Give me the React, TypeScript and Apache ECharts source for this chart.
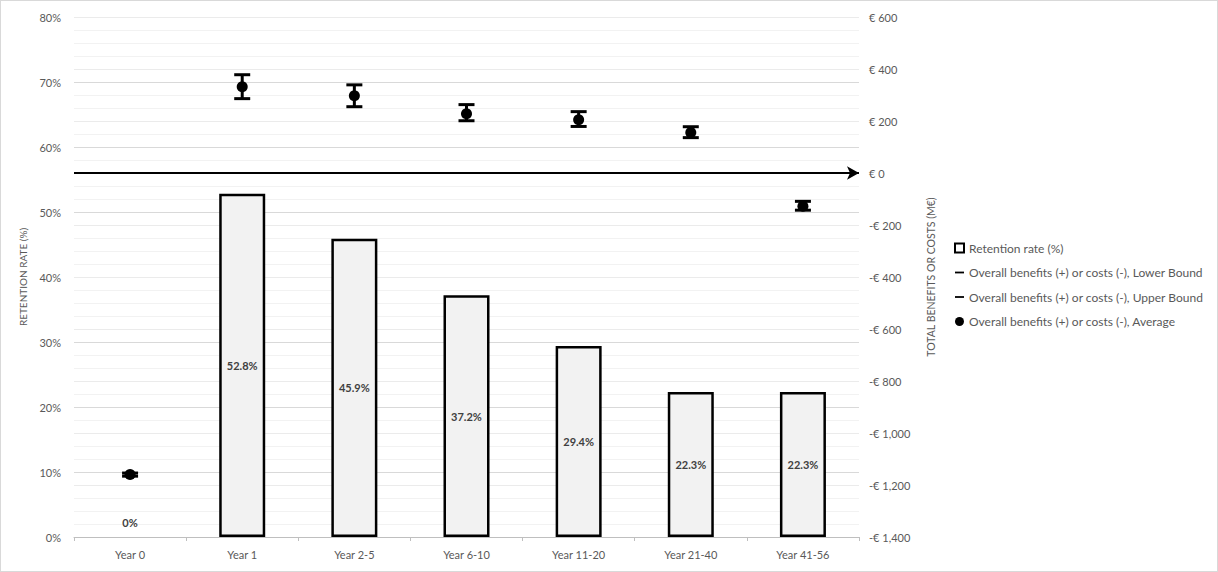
import React, { useEffect, useRef } from "react";
import * as echarts from "echarts";

const categories = ["Year 0", "Year 1", "Year 2-5", "Year 6-10", "Year 11-20", "Year 21-40", "Year 41-56"];
const retentionRate = [0, 52.8, 45.9, 37.2, 29.4, 22.3, 22.3];
const average = [-1160, 332, 297, 228, 205, 156, -128];
const lowerBound = [-1166, 286, 255, 201, 179, 136, -143];
const upperBound = [-1154, 378, 339, 263, 236, 178, -109];
const leftTicks = { min: 0, max: 80, interval: 10 };
const rightTicks = { min: -1400, max: 600, interval: 200 };

const FONT = "Lato, 'Open Sans', sans-serif";
const GREY = "#595959";

function fmtEuro(v: number) {
  const abs = Math.abs(v).toLocaleString("en-US");
  return (v < 0 ? "-€ " : "€ ") + abs;
}

export default function App() {
  const ref = useRef<HTMLDivElement>(null);
  useEffect(() => {
    if (!ref.current) return;
    const chart = echarts.init(ref.current, undefined, { renderer: "svg" });

    const errRender = () => (params: any, api: any) => {
      const idx = api.value(0);
      const avg = api.value(1);
      const end = api.value(2);
      const p0 = api.coord([idx, avg]);
      const p1 = api.coord([idx, end]);
      const half = 8;
      const style = { stroke: "#000", lineWidth: 3 };
      return {
        type: "group",
        children: [
          { type: "line", shape: { x1: p0[0], y1: p0[1], x2: p1[0], y2: p1[1] }, style },
          { type: "line", shape: { x1: p1[0] - half, y1: p1[1], x2: p1[0] + half, y2: p1[1] }, style },
        ],
      };
    };

    chart.setOption({
      animation: false,
      textStyle: { fontFamily: FONT },
      grid: { left: 73, right: 358, top: 16, bottom: 34 },
      legend: {
        orient: "vertical",
        left: 948,
        top: 236,
        itemWidth: 9,
        itemHeight: 9,
        itemGap: 12.5,
        textStyle: { fontSize: 12, color: GREY, fontFamily: FONT },
        data: [
          { name: "Retention rate (%)", icon: "rect", itemStyle: { color: "#fff", borderColor: "#000", borderWidth: 2 } },
          { name: "Overall benefits (+) or costs (-), Lower Bound", icon: "path://M0,4H10V6H0Z", itemStyle: { color: "#000" } },
          { name: "Overall benefits (+) or costs (-), Upper Bound", icon: "path://M0,4H10V6H0Z", itemStyle: { color: "#000" } },
          { name: "Overall benefits (+) or costs (-), Average", icon: "path://M2,5A3,3 0 1,0 8,5A3,3 0 1,0 2,5Z", itemStyle: { color: "#000" } },
        ],
      },
      xAxis: {
        type: "category",
        data: categories,
        axisLine: { lineStyle: { color: "#bfbfbf" } },
        axisTick: { show: true, length: 4, lineStyle: { color: "#bfbfbf" } },
        axisLabel: { color: GREY, fontSize: 11, margin: 12 },
      },
      yAxis: [
        {
          type: "value",
          min: leftTicks.min,
          max: leftTicks.max,
          interval: leftTicks.interval,
          position: "left",
          name: "RETENTION RATE (%)",
          nameLocation: "middle",
          nameGap: 46,
          nameRotate: 90,
          nameTextStyle: { fontSize: 10, color: GREY },
          axisLabel: { formatter: "{value}%", color: GREY, fontSize: 11, margin: 13 },
          axisLine: { show: false },
          axisTick: { show: false },
          splitLine: { lineStyle: { color: "#d9d9d9" } },
          minorTick: { show: false, splitNumber: 5 },
          minorSplitLine: { show: true, lineStyle: { color: "#f2f2f2" } },
        },
        {
          type: "value",
          min: rightTicks.min,
          max: rightTicks.max,
          interval: rightTicks.interval,
          position: "right",
          name: "TOTAL BENEFITS OR COSTS (M€)",
          nameLocation: "middle",
          nameGap: 66,
          nameRotate: 90,
          nameTextStyle: { fontSize: 10.5, color: GREY },
          axisLabel: { formatter: (v: number) => fmtEuro(v), color: GREY, fontSize: 11, margin: 10 },
          axisLine: { show: false },
          axisTick: { show: false },
          splitLine: { lineStyle: { color: "#ebebeb" } },
        },
      ],
      series: [
        {
          name: "Retention rate (%)",
          type: "bar",
          yAxisIndex: 0,
          barWidth: 46,
          itemStyle: { color: "#f2f2f2", borderColor: "#000", borderWidth: 2.5 },
          label: {
            show: true,
            position: "inside",
            formatter: (p: any) => p.value + "%",
            color: "#404040",
            fontWeight: "bold",
            fontSize: 11,
          },
          data: retentionRate.map((v) =>
            v === 0
              ? { value: v, itemStyle: { borderWidth: 0 }, label: { position: "insideBottom", distance: 9 } }
              : v
          ),
        },
        {
          name: "Overall benefits (+) or costs (-), Lower Bound",
          type: "custom",
          yAxisIndex: 1,
          renderItem: errRender(),
          data: lowerBound.map((v, i) => [i, average[i], v]),
          z: 5,
        },
        {
          name: "Overall benefits (+) or costs (-), Upper Bound",
          type: "custom",
          yAxisIndex: 1,
          renderItem: errRender(),
          data: upperBound.map((v, i) => [i, average[i], v]),
          z: 5,
        },
        {
          name: "Overall benefits (+) or costs (-), Average",
          type: "scatter",
          yAxisIndex: 1,
          symbol: "circle",
          symbolSize: 11,
          itemStyle: { color: "#000", opacity: 1 },
          data: average,
          z: 6,
          markLine: {
            silent: true,
            symbol: ["none", "arrow"],
            symbolSize: [10, 12],
            label: { show: false },
            lineStyle: { color: "#000", width: 2, type: "solid" },
            data: [{ yAxis: 0 }],
          },
        },
      ],
    });
    return () => chart.dispose();
  }, []);

  return (
    <div
      ref={ref}
      style={{
        position: "absolute",
        left: 0,
        top: 0,
        width: 1218,
        height: 572,
        border: "1px solid #d9d9d9",
        boxSizing: "border-box",
        background: "#fff",
      }}
    />
  );
}
